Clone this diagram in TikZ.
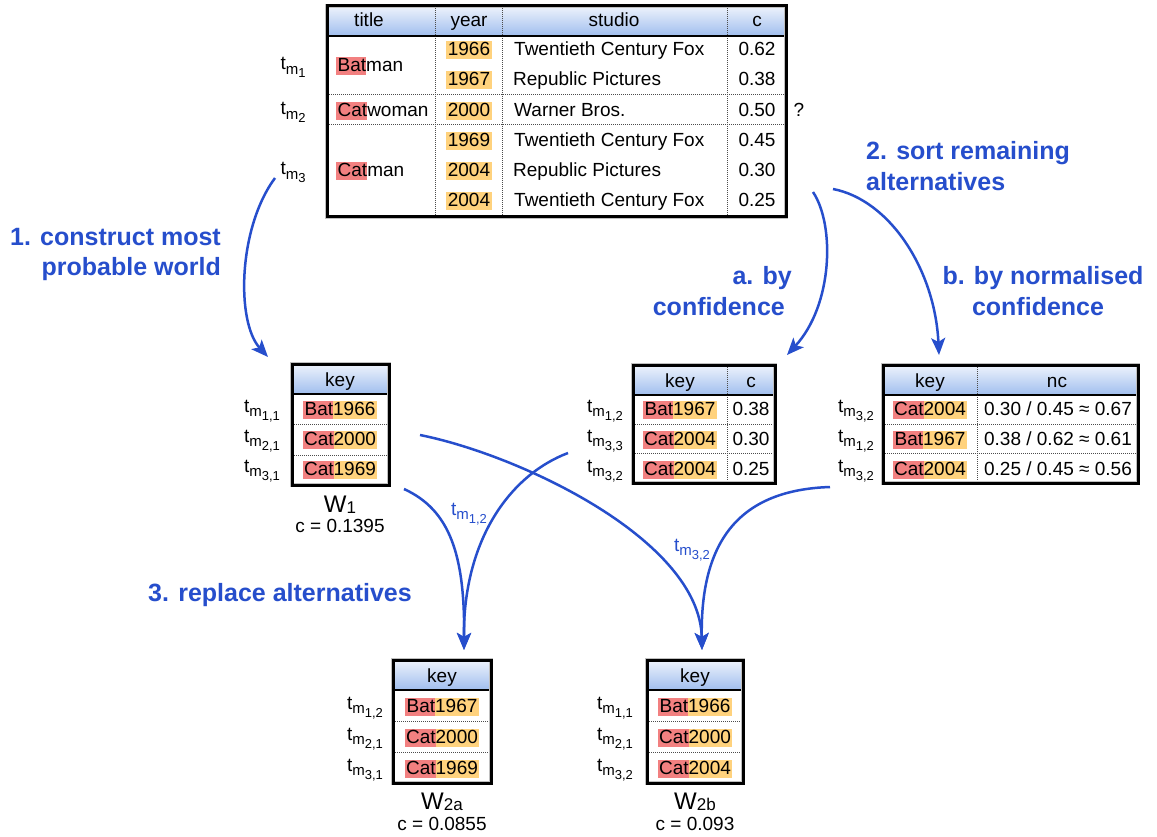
\documentclass[tikz,border=0pt]{standalone}
\usepackage{fontspec}
\setmainfont{Liberation Sans}
\usetikzlibrary{arrows.meta}

\definecolor{flowblue}{RGB}{38,78,204}
\definecolor{hlred}{RGB}{242,128,128}
\definecolor{hlyel}{RGB}{255,210,125}
\definecolor{headtop}{RGB}{238,243,252}
\definecolor{headbot}{RGB}{160,190,238}

% highlighted pieces of keys and titles
\newcommand\hlstrut{\rule[-3.5pt]{0pt}{18pt}}
\newcommand\hlr[1]{{\setlength\fboxsep{0pt}\colorbox{hlred}{\hlstrut\kern1.5pt#1}}}
\newcommand\hly[1]{{\setlength\fboxsep{0pt}\colorbox{hlyel}{\hlstrut#1\kern1.5pt}}}
\newcommand\hlyear[1]{{\setlength\fboxsep{0pt}\colorbox{hlyel}{\hlstrut\kern1.5pt#1\kern1.5pt}}}
\newcommand\keyval[2]{\hlr{#1}\hly{#2}}
% tuple names t_{m_i}
\newcommand\tm[1]{t\raisebox{-4.5pt}{\fontsize{15}{15}\selectfont m\raisebox{-3.5pt}{\fontsize{13}{13}\selectfont #1}}}
% world names W_i
\newcommand\wname[1]{{\fontsize{24}{24}\selectfont W}\raisebox{-1pt}{\fontsize{17}{17}\selectfont #1}}

\begin{document}
\begin{tikzpicture}[x=1pt,y=-1pt,
  font=\fontsize{19}{22}\selectfont,
  txt/.style={anchor=base, inner sep=0pt},
  txtw/.style={anchor=base west, inner sep=0pt},
  txte/.style={anchor=base east, inner sep=0pt},
  stepnote/.style={inner sep=0pt, font=\fontsize{25}{30}\selectfont\bfseries, text=flowblue},
  flowlbl/.style={anchor=base, inner sep=0pt, text=flowblue},
  flow/.style={draw=flowblue, line width=2.5pt, -{Stealth[length=17pt,width=14pt,inset=4pt]}},
  dotsep/.style={draw=gray!60!black, line width=1pt, dash pattern=on 1pt off 1pt},
  headrule/.style={draw=black, line width=2pt},
  frameback/.style={draw=gray!50, line width=4.5pt},
  frame/.style={draw=black, line width=3pt},
  header/.style={top color=headtop, bottom color=headbot, draw=none}]

\useasboundingbox[fill=white] (0,0) rectangle (1157,837);

% ---------------- source table ----------------
\fill[header] (327,6) rectangle (786,36);
\foreach \cx in {435,502,727} \draw[dotsep] (\cx,6) -- (\cx,217);
\draw[dotsep] (327,95) -- (786,95);
\draw[dotsep] (327,125) -- (786,125);
\draw[headrule] (327,36) -- (786,36);
\draw[frameback] (327,6) rectangle (786,217);
\draw[frame] (327,6) rectangle (786,217);

\node[txt] (hTitle) at (369,27) {title};
\node[txt] (hYear) at (469,27) {year};
\node[txt] (hStudio) at (614,27) {studio};
\node[txt] (hC) at (757,27) {c};

\node[txtw] (tBatman) at (336,72) {\hlr{Bat}man};
\node[txtw] (tCatwoman) at (336,117) {\hlr{Cat}woman};
\node[txtw] (tCatman) at (336,177) {\hlr{Cat}man};

\node[txt] (y1) at (469,56) {\hlyear{1966}};
\node[txt] (y2) at (469,86) {\hlyear{1967}};
\node[txt] (y3) at (469,117) {\hlyear{2000}};
\node[txt] (y4) at (469,147) {\hlyear{1969}};
\node[txt] (y5) at (469,177) {\hlyear{2004}};
\node[txt] (y6) at (469,207) {\hlyear{2004}};

\node[txtw] (s1) at (514,56) {Twentieth Century Fox};
\node[txtw] (s2) at (513,86) {Republic Pictures};
\node[txtw] (s3) at (514,117) {Warner Bros.};
\node[txtw] (s4) at (514,147) {Twentieth Century Fox};
\node[txtw] (s5) at (513,177) {Republic Pictures};
\node[txtw] (s6) at (514,207) {Twentieth Century Fox};

\node[txt] (c1) at (757,56) {0.62};
\node[txt] (c2) at (757,86) {0.38};
\node[txt] (c3) at (757,117) {0.50};
\node[txt] (c4) at (757,147) {0.45};
\node[txt] (c5) at (757,177) {0.30};
\node[txt] (c6) at (757,207) {0.25};

\node[txt] (q) at (799,117) {?};

\node[txt] (tm1) at (293,70) {\tm{1}};
\node[txt] (tm2) at (293,115) {\tm{2}};
\node[txt] (tm3) at (293,175) {\tm{3}};

% ---------------- world W1 ----------------
\fill[header] (292,364) rectangle (389,394);
\draw[dotsep] (292,424) -- (389,424);
\draw[dotsep] (292,455) -- (389,455);
\draw[headrule] (292,394) -- (389,394);
\draw[frameback] (292,364) rectangle (389,485);
\draw[frame] (292,364) rectangle (389,485);
\node[txt] (w1key) at (340,386) {key};
\node[txt] (w1r1) at (340,415) {\keyval{Bat}{1966}};
\node[txt] (w1r2) at (340,445) {\keyval{Cat}{2000}};
\node[txt] (w1r3) at (340,475) {\keyval{Cat}{1969}};
\node[txt] (w1l1) at (262,412) {\tm{1,1}};
\node[txt] (w1l2) at (262,442) {\tm{2,1}};
\node[txt] (w1l3) at (262,472) {\tm{3,1}};
\node[txt] (w1name) at (340,512) {\wname{1}};
\node[txt] (w1conf) at (340,532) {c = 0.1395};

% ---------------- sorted by confidence ----------------
\fill[header] (633,365) rectangle (775,395);
\draw[dotsep] (727,365) -- (727,483);
\draw[dotsep] (633,424) -- (775,424);
\draw[dotsep] (633,453) -- (775,453);
\draw[headrule] (633,395) -- (775,395);
\draw[frameback] (633,365) rectangle (775,483);
\draw[frame] (633,365) rectangle (775,483);
\node[txt] (akey) at (680,387) {key};
\node[txt] (ac) at (751,387) {c};
\node[txt] (ar1) at (680,415) {\keyval{Bat}{1967}};
\node[txt] (ar2) at (680,445) {\keyval{Cat}{2004}};
\node[txt] (ar3) at (680,475) {\keyval{Cat}{2004}};
\node[txt] (av1) at (751,415) {0.38};
\node[txt] (av2) at (751,445) {0.30};
\node[txt] (av3) at (751,475) {0.25};
\node[txt] (al1) at (605,412) {\tm{1,2}};
\node[txt] (al2) at (605,442) {\tm{3,3}};
\node[txt] (al3) at (605,472) {\tm{3,2}};

% ---------------- sorted by normalised confidence ----------------
\fill[header] (883,365) rectangle (1138,395);
\draw[dotsep] (977,365) -- (977,483);
\draw[dotsep] (883,424) -- (1138,424);
\draw[dotsep] (883,453) -- (1138,453);
\draw[headrule] (883,395) -- (1138,395);
\draw[frameback] (883,365) rectangle (1138,483);
\draw[frame] (883,365) rectangle (1138,483);
\node[txt] (bkey) at (930,387) {key};
\node[txt] (bnc) at (1057,387) {nc};
\node[txt] (br1) at (930,415) {\keyval{Cat}{2004}};
\node[txt] (br2) at (930,445) {\keyval{Bat}{1967}};
\node[txt] (br3) at (930,475) {\keyval{Cat}{2004}};
\node[txt] (bv1) at (1058,415) {0.30 / 0.45 ≈ 0.67};
\node[txt] (bv2) at (1058,445) {0.38 / 0.62 ≈ 0.61};
\node[txt] (bv3) at (1058,475) {0.25 / 0.45 ≈ 0.56};
\node[txt] (bl1) at (856,412) {\tm{3,2}};
\node[txt] (bl2) at (856,442) {\tm{1,2}};
\node[txt] (bl3) at (856,472) {\tm{3,2}};

% ---------------- world W2a ----------------
\fill[header] (393,660) rectangle (491,690);
\draw[dotsep] (393,721) -- (491,721);
\draw[dotsep] (393,752) -- (491,752);
\draw[headrule] (393,690) -- (491,690);
\draw[frameback] (393,660) rectangle (491,783);
\draw[frame] (393,660) rectangle (491,783);
\node[txt] (w2akey) at (442,682) {key};
\node[txt] (w2ar1) at (442,712) {\keyval{Bat}{1967}};
\node[txt] (w2ar2) at (442,743) {\keyval{Cat}{2000}};
\node[txt] (w2ar3) at (442,774) {\keyval{Cat}{1969}};
\node[txt] (w2al1) at (365,709) {\tm{1,2}};
\node[txt] (w2al2) at (365,740) {\tm{2,1}};
\node[txt] (w2al3) at (365,771) {\tm{3,1}};
\node[txt] (w2aname) at (442,809) {\wname{2a}};
\node[txt] (w2aconf) at (442,830) {c = 0.0855};

% ---------------- world W2b ----------------
\fill[header] (647,660) rectangle (743,690);
\draw[dotsep] (647,721) -- (743,721);
\draw[dotsep] (647,752) -- (743,752);
\draw[headrule] (647,690) -- (743,690);
\draw[frameback] (647,660) rectangle (743,783);
\draw[frame] (647,660) rectangle (743,783);
\node[txt] (w2bkey) at (695,682) {key};
\node[txt] (w2br1) at (695,712) {\keyval{Bat}{1966}};
\node[txt] (w2br2) at (695,743) {\keyval{Cat}{2000}};
\node[txt] (w2br3) at (695,774) {\keyval{Cat}{2004}};
\node[txt] (w2bl1) at (615,709) {\tm{1,1}};
\node[txt] (w2bl2) at (615,740) {\tm{2,1}};
\node[txt] (w2bl3) at (615,771) {\tm{3,2}};
\node[txt] (w2bname) at (695,809) {\wname{2b}};
\node[txt] (w2bconf) at (695,830) {c = 0.093};

% ---------------- step notes ----------------
\node[stepnote, anchor=base east] (n1a) at (221,246) {1. construct most};
\node[stepnote, anchor=base east] (n1b) at (221,276) {probable world};
\node[stepnote, anchor=base west] (n2a) at (866,160) {2. sort remaining};
\node[stepnote, anchor=base west] (n2b) at (866,191) {alternatives};
\node[stepnote, anchor=base east] (naa) at (792,284) {a. by};
\node[stepnote, anchor=base east] (nab) at (785,315) {confidence};
\node[stepnote, anchor=base] (nba) at (1043,284) {b. by normalised};
\node[stepnote, anchor=base] (nbb) at (1038,315) {confidence};
\node[stepnote, anchor=base west] (n3) at (148,601) {3. replace alternatives};

\node[flowlbl] (sw1) at (469,515) {\tm{1,2}};
\node[flowlbl] (sw2) at (692,551) {\tm{3,2}};

% ---------------- connectors ----------------
\coordinate (a1s) at (275,178);
\coordinate (w1in) at (268,357);
\coordinate (a2s) at (813,192);
\coordinate (ain) at (787,355);
\coordinate (a3s) at (833,189);
\coordinate (bin) at (939,355);
\coordinate (a4s) at (404,489);
\coordinate (a5s) at (568,453);
\coordinate (w2ain) at (464,650);
\coordinate (a6s) at (420,435);
\coordinate (a7s) at (830,487);
\coordinate (w2bin) at (702,650);

\draw[flow] (a1s) .. controls (238,228) and (236,322) .. (w1in);
\draw[flow] (a2s) .. controls (835,225) and (833,305) .. (ain);
\draw[flow] (a3s) .. controls (890,200) and (935,270) .. (bin);
\draw[flow] (a4s) .. controls (450,510) and (465,555) .. (w2ain);
\draw[flow] (a5s) .. controls (510,475) and (463,540) .. (w2ain);
\draw[flow] (a6s) .. controls (520,455) and (700,540) .. (w2bin);
\draw[flow] (a7s) .. controls (740,490) and (700,540) .. (w2bin);

\end{tikzpicture}
\end{document}
